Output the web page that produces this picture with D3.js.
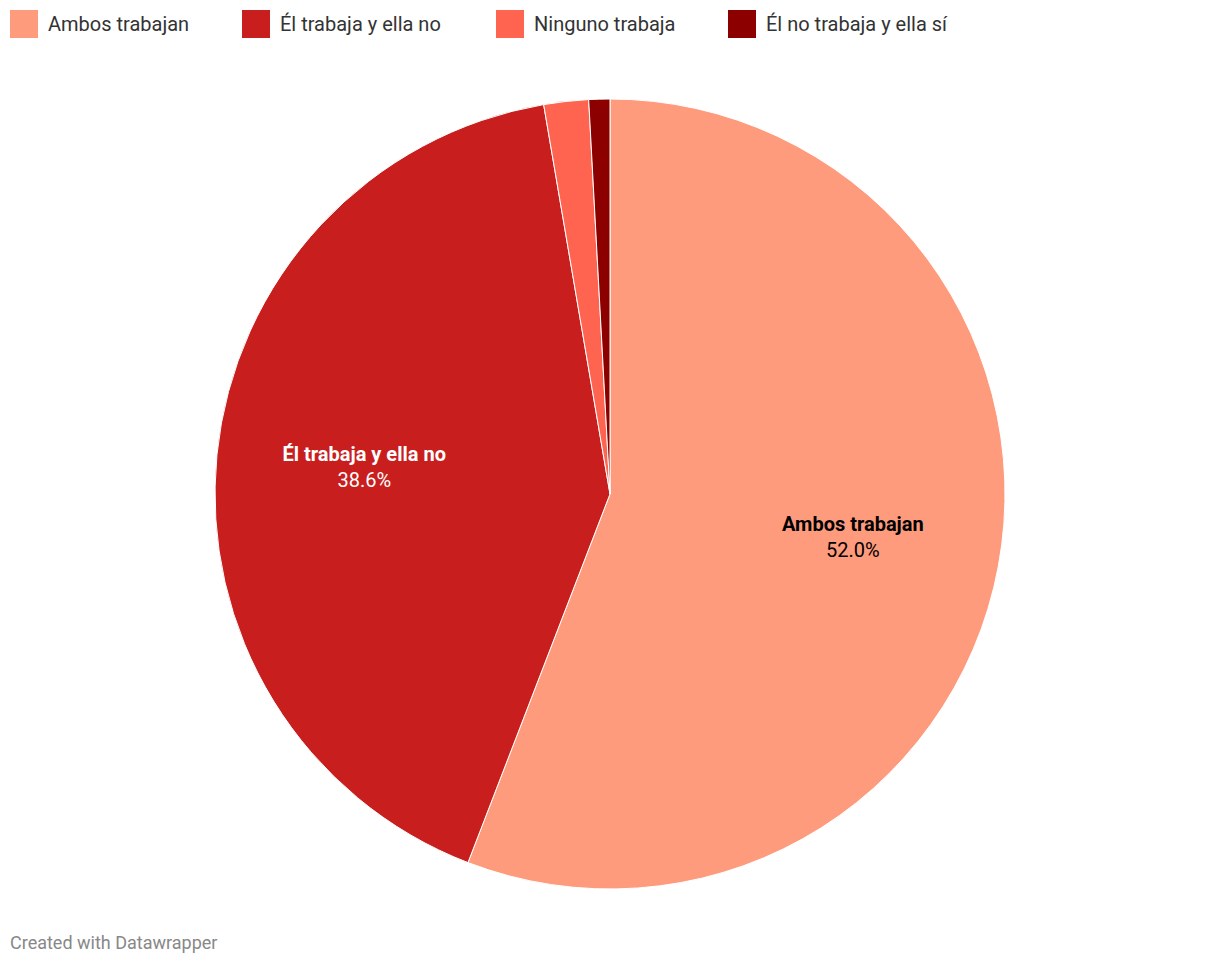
<!DOCTYPE html>
<html><head><meta charset="utf-8">
<script src="https://cdn.jsdelivr.net/npm/d3@7"></script>
<style>body{margin:0;background:#fff;font-family:Roboto,sans-serif}</style>
</head><body>
<svg id="c" width="1220" height="966"></svg>
<script>
const categories=["Ambos trabajan","Él trabaja y ella no","Ninguno trabaja","Él no trabaja y ella sí"];
const values=[52.0,38.6,1.7,0.8];
const colors=["#ff9b7d","#c81e1e","#ff6450","#8c0000"];
const labelColors=["#000","#fff",null,null];
const svg=d3.select("#c");
const color=d3.scaleOrdinal().domain(categories).range(colors);
// legend
const lx=[10,242,496,728];
const lg=svg.selectAll("g.l").data(categories).join("g").attr("transform",(d,i)=>`translate(${lx[i]},10)`);
lg.append("rect").attr("width",28).attr("height",28).attr("fill",d=>color(d));
lg.append("text").attr("x",38).attr("y",21).attr("font-size",20).attr("fill","#333").text(d=>d);
const cx=610,cy=494,R=395;
const data=categories.map((c,i)=>({c,v:values[i],lc:labelColors[i]}));
const pie=d3.pie().sort(null).value(d=>d.v);
const arc=d3.arc().innerRadius(0).outerRadius(R);
const larc=d3.arc().innerRadius(247).outerRadius(247);
const g=svg.append("g").attr("transform",`translate(${cx},${cy})`);
const arcs=pie(data);
g.selectAll("path").data(arcs).join("path").attr("d",arc).attr("fill",d=>color(d.data.c)).attr("stroke","#fff").attr("stroke-width",1);
const lab=g.selectAll("text").data(arcs.filter(d=>d.data.lc)).join("text")
 .attr("transform",d=>`translate(${larc.centroid(d)})`).attr("text-anchor","middle").attr("fill",d=>d.data.lc).attr("font-size",20);
lab.append("tspan").attr("x",0).attr("y",-8).attr("font-weight","bold").text(d=>d.data.c);
lab.append("tspan").attr("x",0).attr("y",18).text(d=>d.data.v.toFixed(1)+"%");
svg.append("text").attr("x",10).attr("y",949).attr("font-size",18).attr("fill","#888").text("Created with Datawrapper");
</script>
</body></html>
